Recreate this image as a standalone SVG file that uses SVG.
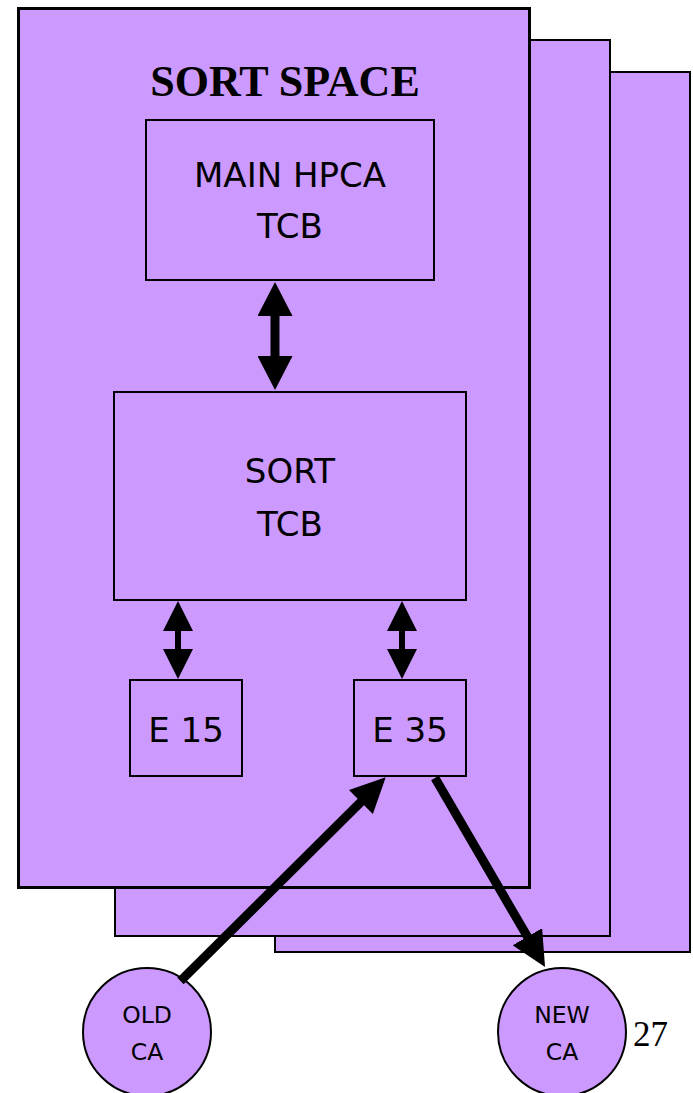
<svg xmlns="http://www.w3.org/2000/svg" width="693" height="1093" viewBox="0 0 693 1093">
  <style>
    .sheet { fill: #CC99FF; stroke: #000; stroke-width: 2; }
    .front { stroke-width: 3; }
    .box { fill: #CC99FF; stroke: #000; stroke-width: 2; }
    .lbl { font-family: "DejaVu Sans", "Liberation Sans", sans-serif; font-size: 34px; fill: #000; text-anchor: middle; }
    .small { font-size: 23.5px; }
    .title { font-family: "Liberation Serif", "Times New Roman", serif; font-weight: bold; font-size: 44px; fill: #000; text-anchor: middle; }
    .page { font-family: "Liberation Serif", "Times New Roman", serif; font-size: 35px; fill: #000; }
    .shaft { stroke: #000; fill: none; stroke-linecap: butt; }
  </style>
  <defs>
    <marker id="headBig" markerUnits="userSpaceOnUse" viewBox="0 0 34 35" markerWidth="34" markerHeight="35" refX="18" refY="17.5" orient="auto-start-reverse">
      <path d="M0,0 L34,17.5 L0,35 Z" fill="#000"/>
    </marker>
    <marker id="headSmall" markerUnits="userSpaceOnUse" viewBox="0 0 30 30" markerWidth="30" markerHeight="30" refX="14" refY="15" orient="auto-start-reverse">
      <path d="M0,0 L30,15 L0,30 Z" fill="#000"/>
    </marker>
    <marker id="headLink" markerUnits="userSpaceOnUse" viewBox="0 0 35 34" markerWidth="35" markerHeight="34" refX="23" refY="17" orient="auto">
      <path d="M0,0 L35,17 L0,34 Z" fill="#000"/>
    </marker>
  </defs>

  <!-- stacked sort space sheets, back to front -->
  <g id="sort-space">
    <rect class="sheet" x="275" y="72" width="415" height="880"/>
    <rect class="sheet" x="115" y="40" width="495" height="896"/>
    <rect class="sheet front" x="18.5" y="8.5" width="511" height="879"/>
    <text class="title" x="285" y="96">SORT SPACE</text>
  </g>

  <g id="main-hpca-tcb">
    <rect class="box" x="146" y="120" width="288" height="160"/>
    <text class="lbl" x="290" y="187">MAIN HPCA</text>
    <text class="lbl" x="290" y="238">TCB</text>
  </g>

  <g id="sort-tcb">
    <rect class="box" x="114" y="392" width="352" height="208"/>
    <text class="lbl" x="290" y="483">SORT</text>
    <text class="lbl" x="290" y="536">TCB</text>
  </g>

  <g id="e15">
    <rect class="box" x="130" y="680" width="112" height="96"/>
    <text class="lbl" x="186" y="742">E 15</text>
  </g>

  <g id="e35">
    <rect class="box" x="354" y="680" width="112" height="96"/>
    <text class="lbl" x="410" y="742">E 35</text>
  </g>

  <g id="old-ca">
    <circle class="box" cx="147" cy="1032" r="64"/>
    <text class="lbl small" x="147" y="1023">OLD</text>
    <text class="lbl small" x="147" y="1060">CA</text>
  </g>

  <g id="new-ca">
    <circle class="box" cx="562" cy="1032" r="64"/>
    <text class="lbl small" x="562" y="1023">NEW</text>
    <text class="lbl small" x="562" y="1060">CA</text>
  </g>

  <!-- connectors -->
  <g id="connectors">
    <line class="shaft" x1="275" y1="298" x2="275" y2="374" stroke-width="9" marker-start="url(#headBig)" marker-end="url(#headBig)"/>
    <line class="shaft" x1="178" y1="617" x2="178" y2="663" stroke-width="6" marker-start="url(#headSmall)" marker-end="url(#headSmall)"/>
    <line class="shaft" x1="402" y1="617" x2="402" y2="663" stroke-width="6" marker-start="url(#headSmall)" marker-end="url(#headSmall)"/>
    <line class="shaft" x1="180.5" y1="981" x2="377.2" y2="785.8" stroke-width="9" marker-end="url(#headLink)"/>
    <line class="shaft" x1="435" y1="778" x2="539" y2="956.6" stroke-width="9" marker-end="url(#headLink)"/>
  </g>

  <text class="page" x="633" y="1046">27</text>
</svg>
